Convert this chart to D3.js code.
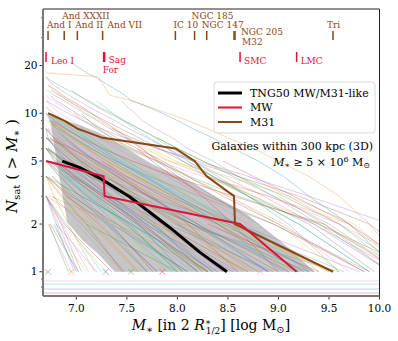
<!DOCTYPE html>
<html>
<head>
<meta charset="utf-8">
<script src="https://cdn.jsdelivr.net/npm/d3@7"></script>
<style>
body { margin: 0; background: #fff; }
svg { display: block; font-family: "DejaVu Serif", serif; }
</style>
</head>
<body>
<svg width="398" height="341"></svg>
<script>
// satellite stellar masses (log Msun) of individual TNG50 hosts, ascending
var hosts = [
    [6.94,6.99,7.05,7.10,7.18,7.25,7.32,7.40,7.48,7.55,7.70,7.85,8.00,8.15,8.35,8.55,8.80,9.05,9.30,9.70,10.2],
    [6.70,7.22,7.24,7.27,7.30,7.33,7.55,7.72,7.90,8.10,8.30,8.50,8.75,9.00,9.30,9.60,9.90,10.3],
    [6.70,6.75,6.83,6.92,7.02,7.12,7.22,7.35,7.48,7.62,7.78,7.95,8.15,8.40,8.70,9.10,9.60],
    [6.72,6.80,6.86,6.95,7.05,7.15,7.25,7.38,7.50,7.65,7.80,8.00,8.25,8.55,9.00],
    [6.71,6.78,6.88,6.97,7.08,7.20,7.33,7.48,7.64,7.82,8.05,8.35,8.80,9.40],
    [6.74,6.80,6.90,7.00,7.12,7.25,7.40,7.60,7.85,8.10,8.45,9.00,9.85],
    [6.70,6.76,6.84,6.95,7.08,7.22,7.40,7.62,7.90,8.25,8.70,9.30],
    [7.45,7.50,7.58,7.65,7.78,7.95,8.10,8.35,8.60,8.95,9.40,10.1],
    [6.70,6.76,6.85,6.96,7.10,7.28,7.50,7.78,8.10,8.55,9.20],
    [6.72,6.82,6.95,7.08,7.25,7.45,7.70,8.00,8.40,9.05],
    [6.70,6.74,6.80,6.90,7.02,7.18,7.40,7.70,8.20,8.90],
    [6.71,6.79,6.88,7.00,7.15,7.32,7.55,7.85,8.30],
    [6.73,6.84,6.98,7.15,7.35,7.60,7.95,8.45,9.35],
    [6.70,6.77,6.90,7.05,7.25,7.50,7.85,8.70],
    [6.75,6.88,7.02,7.20,7.42,7.72,8.15,8.90],
    [6.70,6.80,6.95,7.12,7.35,7.68,8.20],
    [6.78,6.92,7.10,7.32,7.60,8.00,8.65],
    [6.70,6.83,7.00,7.22,7.55,8.05,9.60],
    [6.72,6.85,7.02,7.25,7.52,7.92,8.50,9.10,9.75,10.3],
    [6.90,7.00,7.15,7.30,7.50,7.75,8.10,8.60,9.30],
    [6.70,6.72,6.79,6.90,7.08,7.30,7.62,8.05],
    [6.76,6.86,6.97,7.12,7.30,7.58,7.98,8.55,9.50],
    [7.05,7.12,7.22,7.35,7.52,7.78,8.12,8.60,9.40,10.4],
    [6.70,6.95,7.20,7.45,7.75,8.10,8.60],
    [6.72,6.84,7.00,7.20,7.48,7.90,8.60,9.80],
    [6.80,6.95,7.15,7.40,7.72,8.20,9.10],
    [6.70,6.78,6.88,7.02,7.22,7.48,7.80,8.25,8.90,9.60,10.5],
    [6.74,6.90,7.08,7.30,7.58,7.98,8.80],
    [6.70,6.85,7.05,7.35,7.80,8.50],
    [6.73,6.90,7.15,7.50,8.00],
    [6.70,6.82,7.00,7.28,7.70,8.35],
    [6.76,6.95,7.25,7.70],
    [6.71,6.88,7.12,7.48,8.05],
    [6.70,6.80,6.98,7.25,7.65,8.30],
    [6.78,7.00,7.30,7.80,8.60],
    [6.70,6.92,7.22,7.70],
    [6.74,6.86,7.05,7.32,7.75,8.45],
    [6.72,6.95,7.30,7.90,8.95],
    [6.70,6.84,7.08,7.45],
    [6.85,7.02,7.28,7.65,8.25],
    [6.70,6.78,6.95,7.20,7.60,8.20],
    [6.73,6.90,7.18,7.62],
    [6.70,6.88,7.15,7.55,8.15,9.20],
    [6.80,6.98,7.25,7.62,8.30],
    [6.71,6.86,7.10,7.52,8.40],
    [6.70,6.95,7.40,8.10],
    [7.10,7.25,7.45,7.80,8.35,9.05],
    [6.75,6.92,7.22,7.68,8.55],
    [6.70,6.82,7.00,7.28,7.75,8.70],
    [6.90,7.10,7.40,7.95],
    [6.72,6.88,7.12,7.50,8.15,9.30],
    [7.30,7.45,7.70,8.10,8.80],
    [6.70,7.05,7.55,8.30],
    [7.60,7.75,7.95,8.30,8.95,9.85],
    [7.90,8.05,8.30,8.70,9.35,10.2],
    [6.70,6.85,7.05],
    [6.72,6.95],
    [6.70,6.80,6.98],
    [6.75,7.10],
    [6.70,6.90,7.25],
    [6.78,7.00],
    [6.70,7.15,7.60],
    [6.73,6.92],
    [6.70,6.88,7.35],
    [6.80,7.20],
    [6.90,7.30,7.80],
    [7.00,7.45],
    [7.20,7.60,8.20],
    [7.40,7.90],
    [7.70,8.40,9.10],
    [8.00,8.90],
    [6.74,7.40,8.30],
    [7.10,8.00],
    [8.30,9.40],
    [6.70,6.73,6.78,6.85,6.93,7.02,7.12,7.24,7.38,7.52,7.70,7.90,8.15,8.45,8.85,9.35,10.1],
    [6.75,6.83,6.92,7.02,7.14,7.28,7.44,7.62,7.82,8.05,8.35,8.75,9.30,9.95],
    [6.70,6.77,6.86,6.96,7.06,7.20,7.36,7.55,7.80,8.10,8.50,9.05,9.70],
    [6.95,7.02,7.10,7.20,7.32,7.46,7.62,7.80,8.00,8.25,8.55,8.95,9.50,10.2],
    [6.72,6.78,6.84,6.92,7.00,7.10,7.22,7.36,7.52,7.72,7.98,8.30,8.75,9.40,10.3],
    [7.20,7.28,7.36,7.46,7.58,7.72,7.90,8.10,8.35,8.70,9.20,9.90],
    [6.70,6.79,6.90,7.04,7.20,7.40,7.66,8.00,8.50,9.20],
    [6.73,6.82,6.94,7.10,7.30,7.56,7.90,8.40,9.15],
    [6.70,6.78,6.89,7.03,7.21,7.45,7.78,8.25],
    [6.76,6.89,7.05,7.26,7.55,7.95,8.55,9.45,10.2],
    [6.70,6.81,6.96,7.16,7.44,7.84,8.45],
    [6.74,6.87,7.04,7.28,7.62,8.15,9.00],
    [6.71,6.80,6.93,7.10,7.34,7.70,8.25,9.10],
    [6.82,6.96,7.14,7.38,7.72,8.22,8.95,9.90],
    [6.70,6.85,7.06,7.36,7.80,8.45,9.50],
    [7.00,7.10,7.24,7.42,7.68,8.05,8.60,9.55],
    [6.72,6.86,7.06,7.34,7.74,8.35],
    [6.70,6.90,7.16,7.52,8.02,8.75],
    [6.78,6.94,7.18,7.52,8.00],
    [6.70,6.83,7.04,7.34,7.76],
    [6.74,6.96,7.28,7.74,8.40],
    [6.70,6.86,7.10,7.46],
    [6.88,7.08,7.38,7.85,8.55],
    [6.71,6.92,7.24,7.72,8.50,9.65],
    [7.15,7.35,7.62,8.02,8.65],
    [6.70,6.84,7.02,7.30,7.70],
    [6.76,6.98,7.32,7.80],
    [7.50,7.68,7.92,8.30,8.90,9.70,10.3],
    [8.10,8.35,8.70,9.20,9.90],
    [7.25,7.50,7.85,8.40,9.25],
    [6.70,6.82,7.02],
    [6.74,7.02],
    [6.70,6.86,7.12],
    [6.77,7.05,7.48],
    [6.86,7.30],
    [7.05,7.55,8.15],
    [7.35,8.10],
    [6.70,6.78,6.92,7.18],
    [7.80,8.00,8.25,8.60,9.05,9.60,10.3],
    [8.45,8.75,9.15,9.70,10.4],
    [6.70,6.80,6.92,7.06,7.24,7.48,7.80,8.20,8.70,9.30,10.1,10.6],
    [7.35,7.55,7.80,8.15,8.60,9.20,9.90,10.5],
    [8.70,9.10,9.60,10.2],
    [9.00,9.45,10.1],
    [6.98,7.08,7.20,7.35,7.55,7.80,8.10,8.50,9.00,9.60]
];

// hosts with a single satellite (drawn as crosses at N = 1)
var singleMass = [6.72, 6.95, 7.29, 7.54, 7.85, 8.82];
var singleColor = [5, 1, 0, 2, 3, 6];

// flat lines below N = 1
var flatLevels = [0.874, 0.836, 0.778, 0.734];
var flatColor = [6, 9, 0, 3];

// 16-84 percentile band and median
var bandMass = [6.72, 6.74, 6.87, 6.91, 7.06, 7.21, 7.30, 7.38, 7.73, 8.13, 8.69, 9.12, 9.36];
var bandLow  = [9.6, 9.07, 2.84, 2.06, 1.58, 1.31, 1.135, 1.0, 1.0, 1.0, 1.0, 1.0, 1.0];
var bandHigh = [9.8, 9.6, 9.07, 8.93, 8.3, 7.6, 7.1, 6.7, 4.86, 3.68, 2.3, 1.37, 1.0];
var medMass = [6.86, 7.04, 7.23, 7.53, 7.93, 8.22, 8.49];
var medN    = [4.99, 4.52, 3.90, 2.96, 1.89, 1.33, 1.0];

// observed satellites
var mwNames = ["Leo I", "Sag", "For", "SMC", "LMC"];
var mwMass  = [6.70, 7.27, 7.28, 8.62, 9.18];
var m31Names = ["And I", "And XXXII", "And II", "And VII", "IC 10", "NGC 185", "NGC 147", "NGC 205", "M32", "Tri"];
var m31Mass  = [6.72, 6.88, 7.01, 7.26, 7.98, 8.17, 8.29, 8.56, 8.57, 9.54];

var xTicks = [7.0, 7.5, 8.0, 8.5, 9.0, 9.5, 10.0];
var yTicks = [1, 2, 5, 10, 20];
var yMinor = [0.8, 0.9, 3, 4, 6, 7, 8, 9, 30, 40];

// label placement (pixel offsets from the marker / absolute y)
var m31LabelPos = [[-1, 25], [-2, 16], [-2, 25], [5, 25], [-2, 25], [-3, 16], [-5, 25], [7, 32], [7, 42], [-6, 25]];
var mwLabelPos = [[5, 61], [5, 60], [-2, 70], [4, 61], [4, 61]];

function drawChart () {
    var tab = d3.schemeCategory10;
    var mwColor = "#dc143c", m31Color = "#8b4513";

    var svg = d3.select("svg"),
        pl = 43, pr = 379.5, pt = 9, pb = 296;

    var x = d3.scaleLinear().domain([6.67, 10.0]).range([pl, pr]);
    var y = d3.scaleLog().domain([0.703, 45.5]).range([pb, pt]);

    svg.append("clipPath").attr("id", "clip")
        .append("rect").attr("x", pl).attr("y", pt).attr("width", pr - pl).attr("height", pb - pt);

    var plot = svg.append("g").attr("clip-path", "url(#clip)");

    var line = d3.line().x(function(d) { return x(d[0]); }).y(function(d) { return y(d[1]); });

    function cumul(masses) {
        return masses.map(function(m, i) { return [m, masses.length - i]; });
    }

    // percentile band
    var area = d3.area()
        .x(function(d, i) { return x(bandMass[i]); })
        .y0(function(d, i) { return y(bandLow[i]); })
        .y1(function(d, i) { return y(bandHigh[i]); });

    plot.append("path")
        .attr("d", area(bandMass))
        .attr("fill", "#808080")
        .attr("fill-opacity", 0.45);

    // individual hosts
    plot.selectAll(".host")
        .data(hosts)
        .enter().append("path")
            .attr("class", "host")
            .attr("fill", "none")
            .attr("stroke", function(d, i) { return tab[i % 10]; })
            .attr("stroke-opacity", 0.4)
            .attr("stroke-width", 0.8)
            .attr("d", function(d) { return line(cumul(d)); });

    plot.selectAll(".flat")
        .data(flatLevels)
        .enter().append("line")
            .attr("x1", pl).attr("x2", pr)
            .attr("y1", function(d) { return y(d); })
            .attr("y2", function(d) { return y(d); })
            .attr("stroke", function(d, i) { return tab[flatColor[i]]; })
            .attr("stroke-opacity", 0.35)
            .attr("stroke-width", 0.9);

    plot.selectAll(".single")
        .data(singleMass)
        .enter().append("path")
            .attr("transform", function(d) { return "translate(" + x(d) + "," + y(1) + ")"; })
            .attr("d", "M-3,-3L3,3M-3,3L3,-3")
            .attr("stroke", function(d, i) { return tab[singleColor[i]]; })
            .attr("stroke-opacity", 0.45)
            .attr("stroke-width", 1);

    // median
    plot.append("path")
        .attr("d", line(medMass.map(function(m, i) { return [m, medN[i]]; })))
        .attr("fill", "none")
        .attr("stroke", "#000")
        .attr("stroke-width", 3);

    // MW and M31
    plot.append("path")
        .attr("d", line(cumul(m31Mass)))
        .attr("fill", "none").attr("stroke", m31Color).attr("stroke-width", 2);
    plot.append("path")
        .attr("d", line(cumul(mwMass)))
        .attr("fill", "none").attr("stroke", mwColor).attr("stroke-width", 2);

    // satellite markers and names
    var m31g = svg.append("g").attr("fill", m31Color).style("font-size", "9px");
    m31g.selectAll("rect")
        .data(m31Mass)
        .enter().append("rect")
            .attr("x", function(d) { return x(d) - 0.75; })
            .attr("y", 31).attr("width", 1.5).attr("height", 9);
    m31g.selectAll("text")
        .data(m31Names)
        .enter().append("text")
            .attr("x", function(d, i) { return x(m31Mass[i]) + m31LabelPos[i][0]; })
            .attr("y", function(d, i) { return m31LabelPos[i][1] + 3.2; })
            .text(function(d) { return d; });

    var mwg = svg.append("g").attr("fill", mwColor).style("font-size", "9px");
    mwg.selectAll("rect")
        .data(mwMass)
        .enter().append("rect")
            .attr("x", function(d) { return x(d) - 0.75; })
            .attr("y", 52).attr("width", 1.5).attr("height", 10);
    mwg.selectAll("text")
        .data(mwNames)
        .enter().append("text")
            .attr("x", function(d, i) { return x(mwMass[i]) + mwLabelPos[i][0]; })
            .attr("y", function(d, i) { return mwLabelPos[i][1] + 3.2; })
            .text(function(d) { return d; });

    // axes
    var axes = svg.append("g").attr("fill", "#000").style("font-size", "10.5px");
    axes.selectAll(".xt")
        .data(xTicks)
        .enter().append("g")
            .attr("transform", function(d) { return "translate(" + x(d) + "," + pb + ")"; })
            .each(function(d) {
                var t = d3.select(this);
                t.append("line").attr("y2", 3.5).attr("stroke", "#000").attr("stroke-width", 0.8);
                t.append("text").attr("y", 15.5).attr("text-anchor", "middle").text(d.toFixed(1));
            });

    axes.selectAll(".yt")
        .data(yTicks)
        .enter().append("g")
            .attr("transform", function(d) { return "translate(" + pl + "," + y(d) + ")"; })
            .each(function(d) {
                var t = d3.select(this);
                t.append("line").attr("x2", -3.5).attr("stroke", "#000").attr("stroke-width", 0.8);
                t.append("text").attr("x", -5.5).attr("dy", "0.35em").attr("text-anchor", "end").text(d);
            });

    axes.selectAll(".ym")
        .data(yMinor)
        .enter().append("line")
            .attr("x1", pl).attr("x2", pl - 2)
            .attr("y1", function(d) { return y(d); })
            .attr("y2", function(d) { return y(d); })
            .attr("stroke", "#000").attr("stroke-width", 0.6);

    // frame
    svg.append("line").attr("x1", pl).attr("x2", pr).attr("y1", pt).attr("y2", pt).attr("stroke", "#222").attr("stroke-width", 1);
    svg.append("line").attr("x1", pr).attr("x2", pr).attr("y1", pt).attr("y2", pb).attr("stroke", "#222").attr("stroke-width", 1);
    svg.append("line").attr("x1", pl).attr("x2", pr).attr("y1", pb).attr("y2", pb).attr("stroke", "#777").attr("stroke-width", 2);
    svg.append("line").attr("x1", pl).attr("x2", pl).attr("y1", pt).attr("y2", pb).attr("stroke", "#777").attr("stroke-width", 2);

    // axis labels
    var xl = svg.append("text")
        .attr("x", 211).attr("y", 330)
        .attr("text-anchor", "middle")
        .style("font-size", "14px");
    xl.append("tspan").style("font-style", "italic").text("M");
    xl.append("tspan").attr("dy", 3).style("font-size", "10px").text("∗");
    xl.append("tspan").attr("dy", -3).text(" [in 2 ");
    xl.append("tspan").style("font-style", "italic").text("R");
    xl.append("tspan").attr("dy", -5).style("font-size", "9px").text("∗");
    xl.append("tspan").attr("dx", -5).attr("dy", 9).style("font-size", "9px").text("1/2");
    xl.append("tspan").attr("dy", -4).text("] [log M");
    xl.append("tspan").attr("dy", 3).style("font-size", "10px").text("⊙");
    xl.append("tspan").attr("dy", -3).text("]");

    var yl = svg.append("text")
        .attr("transform", "translate(17,166) rotate(-90)")
        .attr("text-anchor", "middle")
        .style("font-size", "15px");
    yl.append("tspan").style("font-style", "italic").text("N");
    yl.append("tspan").attr("dy", 3).style("font-size", "10px").text("sat");
    yl.append("tspan").attr("dy", -3).text(" ( > ");
    yl.append("tspan").style("font-style", "italic").text("M");
    yl.append("tspan").attr("dy", 3).style("font-size", "10px").text("∗");
    yl.append("tspan").attr("dy", -3).text(" )");

    // legend
    var legendItems = [["TNG50 MW/M31-like", "#000", 3], ["MW", mwColor, 2], ["M31", m31Color, 2]];
    var lg = svg.append("g");
    lg.append("rect")
        .attr("x", 214).attr("y", 82).attr("width", 161).attr("height", 51)
        .attr("rx", 3)
        .attr("fill", "#fff").attr("fill-opacity", 0.85)
        .attr("stroke", "#d0d0d0").attr("stroke-width", 0.8);
    var li = lg.selectAll(".li")
        .data(legendItems)
        .enter().append("g")
            .attr("transform", function(d, i) { return "translate(0," + (93 + i * 14.5) + ")"; });
    li.append("line")
        .attr("x1", 218).attr("x2", 242)
        .attr("stroke", function(d) { return d[1]; })
        .attr("stroke-width", function(d) { return d[2]; });
    li.append("text")
        .attr("x", 250).attr("dy", "0.35em")
        .style("font-size", "11px")
        .text(function(d) { return d[0]; });

    // annotation
    svg.append("text")
        .attr("x", 373).attr("y", 150)
        .attr("text-anchor", "end")
        .style("font-size", "11px")
        .text("Galaxies within 300 kpc (3D)");
    var an = svg.append("text")
        .attr("x", 370).attr("y", 166)
        .attr("text-anchor", "end")
        .style("font-size", "11px");
    an.append("tspan").style("font-style", "italic").text("M");
    an.append("tspan").attr("dy", 2).style("font-size", "8px").text("∗");
    an.append("tspan").attr("dy", -2).text(" ≥ 5 × 10");
    an.append("tspan").attr("dy", -4).style("font-size", "8px").text("6");
    an.append("tspan").attr("dy", 4).text(" M");
    an.append("tspan").attr("dy", 2).style("font-size", "8px").text("⊙");
}

drawChart();
</script>
</body>
</html>
